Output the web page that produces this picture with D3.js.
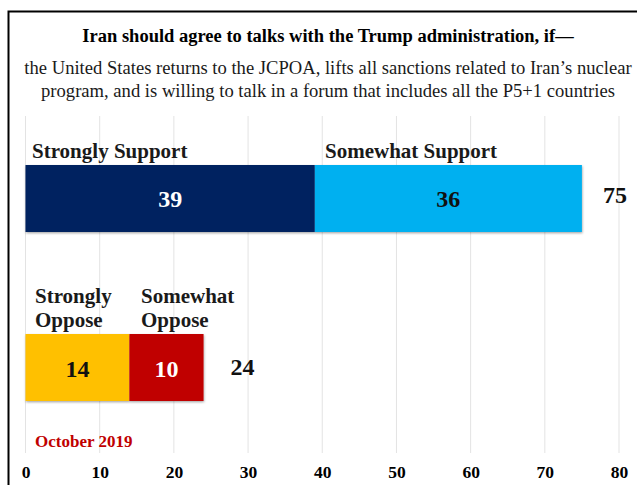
<!DOCTYPE html>
<html lang="en">
<head>
    <meta charset="UTF-8">
    <title>Iran talks</title>
    <script src="https://cdnjs.cloudflare.com/ajax/libs/d3/7.8.5/d3.min.js"></script>
    <style>
        body { margin: 0; background: #fff; }
        text { font-family: "Liberation Serif", "Times New Roman", serif; }
    </style>
</head>
<body>
<script>

    // data
    var rows = ["support", "oppose"];
    var strongValues = [39, 14];
    var somewhatValues = [36, 10];
    var totals = [75, 24];
    var strongLabels = [["Strongly Support"], ["Strongly", "Oppose"]];
    var somewhatLabels = [["Somewhat Support"], ["Somewhat", "Oppose"]];
    var ticks = [0, 10, 20, 30, 40, 50, 60, 70, 80];

    var title = "Iran should agree to talks with the Trump administration, if\u2014";
    var subtitle = ["the United States returns to the JCPOA, lifts all sanctions related to Iran\u2019s nuclear",
        "program,  and is willing to talk in a forum that includes all the P5+1 countries"];
    var note = "October 2019";

    var w = 637, h = 485;

    var svg = d3.select("body").append("svg")
        .attr("width", w)
        .attr("height", h);

    // soft shadow under the bars
    var f = svg.append("defs").append("filter")
        .attr("id", "shadow")
        .attr("x", "-5%").attr("y", "-5%")
        .attr("width", "110%").attr("height", "115%");
    f.append("feDropShadow")
        .attr("dx", 0.5).attr("dy", 1.2)
        .attr("stdDeviation", 0.8)
        .attr("flood-color", "#000")
        .attr("flood-opacity", 0.35);

    // frame (only left and top are visible in the picture)
    svg.append("rect")
        .attr("x", 8.5).attr("y", 11.5)
        .attr("width", 700).attr("height", 600)
        .attr("fill", "none")
        .attr("stroke", "#000")
        .attr("stroke-width", 2);

    var x = d3.scaleLinear().domain([0, 80]).range([25.5, 619]);
    var y = d3.scaleBand().domain(rows).range([165, 401]).paddingInner(0.6036);

    // grid
    svg.append("g")
        .selectAll("line")
        .data(ticks)
        .enter()
        .append("line")
        .attr("x1", function (d) { return x(d); })
        .attr("x2", function (d) { return x(d); })
        .attr("y1", 116)
        .attr("y2", 453)
        .attr("stroke", "#e3e3e3")
        .attr("stroke-width", 1);

    // axis labels
    var axis = d3.axisBottom(x).tickValues(ticks).tickSize(0).tickPadding(0);
    var ax = svg.append("g")
        .attr("transform", "translate(0,466)")
        .call(axis);
    ax.select(".domain").remove();
    ax.selectAll("text")
        .attr("font-family", "Liberation Serif")
        .attr("font-size", 17.5)
        .attr("font-weight", "bold")
        .attr("fill", "#000");

    // titles
    svg.append("text")
        .attr("x", 328).attr("y", 42)
        .attr("text-anchor", "middle")
        .attr("font-size", 18.5)
        .attr("font-weight", "bold")
        .text(title);

    svg.selectAll(".sub")
        .data(subtitle)
        .enter()
        .append("text")
        .attr("class", "sub")
        .attr("x", 328)
        .attr("y", function (d, i) { return 74 + i * 23; })
        .attr("text-anchor", "middle")
        .attr("font-size", 18.6)
        .attr("fill", "#1a1a1a")
        .text(function (d) { return d; });

    // bars
    var bars = svg.append("g").attr("filter", "url(#shadow)");
    bars.selectAll(".strong")
        .data(rows)
        .enter()
        .append("rect")
        .attr("x", x(0))
        .attr("y", function (d) { return y(d); })
        .attr("width", function (d, i) { return x(strongValues[i]) - x(0); })
        .attr("height", y.bandwidth())
        .attr("fill", function (d, i) { return i === 0 ? "#002060" : "#ffc000"; });
    bars.selectAll(".some")
        .data(rows)
        .enter()
        .append("rect")
        .attr("x", function (d, i) { return x(strongValues[i]); })
        .attr("y", function (d) { return y(d); })
        .attr("width", function (d, i) { return x(strongValues[i] + somewhatValues[i]) - x(strongValues[i]); })
        .attr("height", y.bandwidth())
        .attr("fill", function (d, i) { return i === 0 ? "#00b0f0" : "#c00000"; });

    // value labels in bars
    function valueText(cls, getX, vals, colors, dy) {
        svg.selectAll("." + cls)
            .data(rows)
            .enter()
            .append("text")
            .attr("class", cls)
            .attr("x", getX)
            .attr("y", function (d, i) { return y(d) + y.bandwidth() / 2 + dy[i]; })
            .attr("text-anchor", "middle")
            .attr("font-size", 24)
            .attr("font-weight", "bold")
            .attr("fill", function (d, i) { return colors[i]; })
            .text(function (d, i) { return vals[i]; });
    }
    valueText("v1", function (d, i) { return x(strongValues[i] / 2); }, strongValues, ["#fff", "#111"], [9, 9]);
    valueText("v2", function (d, i) { return x(strongValues[i] + somewhatValues[i] / 2); }, somewhatValues, ["#111", "#fff"], [9, 9]);
    valueText("v3", function (d, i) { return x(totals[i]) + (i === 0 ? 33 : 39); }, totals, ["#111", "#111"], [5, 7]);

    // category labels above bars
    function catLabels(labels, getX) {
        rows.forEach(function (r, i) {
            var lines = labels[i];
            var t = svg.append("text")
                .attr("font-size", 21)
                .attr("font-weight", "bold")
                .attr("fill", "#1a1a1a");
            lines.forEach(function (s, j) {
                t.append("tspan")
                    .attr("x", getX(i))
                    .attr("y", y(r) - 7 - (lines.length - 1 - j) * 24)
                    .text(s);
            });
        });
    }
    catLabels(strongLabels, function (i) { return i === 0 ? 32 : 35; });
    catLabels(somewhatLabels, function (i) { return i === 0 ? 325 : 141; });

    // date note
    svg.append("text")
        .attr("x", 35).attr("y", 447)
        .attr("font-size", 17)
        .attr("font-weight", "bold")
        .attr("fill", "#c00000")
        .text(note);

</script>
</body>
</html>
